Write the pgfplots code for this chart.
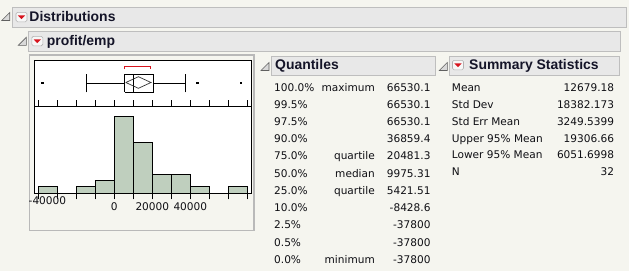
\documentclass[border=0pt]{standalone}
\usepackage{pgfplots}
\pgfplotsset{compat=1.18}
\usepackage{fontspec}
\setmainfont{DejaVu Sans}
\newfontfamily\hdrfont{Liberation Sans}
\definecolor{bg}{RGB}{245,245,239}
\definecolor{hdrfill}{RGB}{232,232,232}
\definecolor{hdrline}{RGB}{190,190,190}
\definecolor{barfill}{RGB}{191,207,190}
\definecolor{txt}{RGB}{15,15,20}
\definecolor{htxt}{RGB}{20,20,40}
\definecolor{jmpred}{RGB}{215,20,30}
\newcommand{\tfont}{\fontsize{10.6}{12}\selectfont}
\newcommand{\hfont}{\hdrfont\bfseries\fontsize{14}{16}\selectfont}
\begin{document}
\begin{tikzpicture}
\begin{scope}[x=1bp,y=-1bp]
\fill[bg] (0,0) rectangle (629,271);
\useasboundingbox (0,0) rectangle (629,271);
% header bars
\draw[hdrline, fill=hdrfill, line width=0.9bp] (12.3,7.3) rectangle (626.7,27.3);
\draw[hdrline, fill=hdrfill, line width=0.9bp] (28.3,31.7) rectangle (620.7,51.3);
\draw[hdrline, fill=hdrfill, line width=0.9bp] (271,56) rectangle (435.7,75.7);
\draw[hdrline, fill=hdrfill, line width=0.9bp] (449.3,56) rectangle (619.3,75.7);
% disclosure triangles
\foreach \tx/\ty in {1.7/12.5, 18.3/37.3, 261/62.5, 439.3/62.5}{
  \draw[gray!75!black, fill=gray!30, line width=0.6bp] (\tx+8,\ty) -- (\tx,\ty+8) -- (\tx+8,\ty+8) -- cycle;
}
% red menu icons
\foreach \ix/\iy in {16/12.3, 31.8/36.3, 452.5/60.3}{
  \draw[gray!60, fill=white!94!gray, rounded corners=1.5bp, line width=0.6bp] (\ix,\iy) rectangle ++(11,9.5);
  \fill[jmpred] (\ix+1.8,\iy+3) -- ++(7.4,0) -- ++(-3.7,3.9) -- cycle;
}
% header texts
\node[anchor=base west, inner sep=0, text=htxt, font=\hfont] at (29.3,21.5) {Distributions};
\node[anchor=base west, inner sep=0, text=htxt, font=\hfont] at (46.7,45.8) {profit/emp};
\node[anchor=base west, inner sep=0, text=htxt, font=\hfont] at (275,69) {Quantiles};
\node[anchor=base west, inner sep=0, text=htxt, font=\hfont] at (469,69) {Summary Statistics};
% plot outer frame
\draw[gray!55, line width=1.2bp] (29.3,55) rectangle (254,230.7);
% axis anchors
\coordinate (bx) at (34.3,60.3);
\coordinate (hx) at (34.3,106.3);
% quantiles table
\foreach \p/\l/\v [count=\i from 0] in {100.0\%/maximum/66530.1, 99.5\%//66530.1, 97.5\%//66530.1, 90.0\%//36859.4, 75.0\%/quartile/20481.3, 50.0\%/median/9975.31, 25.0\%/quartile/5421.51, 10.0\%//-8428.6, 2.5\%//-37800, 0.5\%//-37800, 0.0\%/minimum/-37800}{
  \node[anchor=base west, inner sep=0, text=txt, font=\tfont] at (274,91+17.23*\i) {\p};
  \node[anchor=base east, inner sep=0, text=txt, font=\tfont] at (375,91+17.23*\i) {\l};
  \node[anchor=base east, inner sep=0, text=txt, font=\tfont] at (430.7,91+17.23*\i) {\v};
}
% summary statistics table
\foreach \l/\v [count=\i from 0] in {Mean/12679.18, Std Dev/18382.173, Std Err Mean/3249.5399, Upper 95\% Mean/19306.66, Lower 95\% Mean/6051.6998, N/32}{
  \node[anchor=base west, inner sep=0, text=txt, font=\tfont] at (451.7,91.5+16.84*\i) {\l};
  \node[anchor=base east, inner sep=0, text=txt, font=\tfont] at (614.3,91.5+16.84*\i) {\v};
}
\end{scope}
% box plot axis
\begin{axis}[at={(bx)}, anchor=north west, scale only axis, width=217bp, height=46bp,
  xmin=-42105, xmax=72105, ymin=0, ymax=46, ticks=none, clip=false,
  axis line style={line width=0.9bp},
  axis background/.style={fill=white}]
\addplot[black, line width=0.9bp] coordinates {(5421.51,14) (20481.3,14) (20481.3,32) (5421.51,32) (5421.51,14)};
\addplot[black, line width=0.9bp] coordinates {(9975.31,14) (9975.31,32)};
\addplot[black, line width=0.9bp] coordinates {(-14500,23) (5421.51,23)};
\addplot[black, line width=0.9bp] coordinates {(20481.3,23) (37200,23)};
\addplot[black, line width=0.9bp] coordinates {(-14500,14) (-14500,32)};
\addplot[black, line width=0.9bp] coordinates {(37200,14) (37200,32)};
\addplot[black!80, line width=0.7bp] coordinates {(6051.7,23.8) (12679.18,29.6) (19306.66,23.8) (12679.18,18) (6051.7,23.8)};
\addplot[only marks, mark=square*, mark size=0.9bp, black] coordinates {(-37800,23.6) (43500,23.6) (66530.1,23.6)};
\addplot[jmpred, line width=0.9bp] coordinates {(5421.51,37) (5421.51,40.3) (18950,40.3) (18950,37)};
\end{axis}
% histogram axis
\begin{axis}[at={(hx)}, anchor=north west, scale only axis, width=217bp, height=87bp,
  xmin=-42105, xmax=72105, ymin=0, ymax=13.59, ytick=\empty,
  scaled x ticks=false,
  xtick={-40000,-30000,...,70000},
  xticklabels={,,,,0,,20000,,40000,,,},
  extra x ticks={-35200}, extra x tick labels={-40000},
  extra x tick style={major tick length=0pt},
  tick align=outside, major tick length=6bp,
  x tick style={black, line width=0.9bp},
  axis line style={line width=0.9bp},
  xticklabel style={font=\tfont, text=txt},
  axis background/.style={fill=white}]
\addplot[ybar interval, fill=barfill, draw=black, line width=0.9bp] coordinates {(-40000,1) (-30000,0) (-20000,1) (-10000,2) (0,12) (10000,8) (20000,3) (30000,3) (40000,1) (50000,0) (60000,1) (70000,0)};
\end{axis}
\end{tikzpicture}
\end{document}
